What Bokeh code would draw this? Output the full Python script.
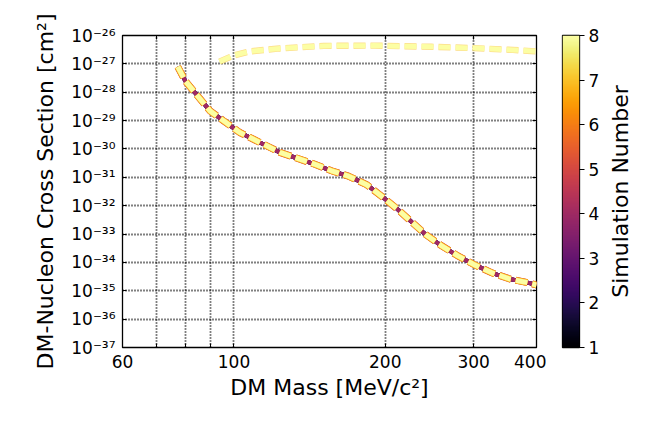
import numpy as np
from bokeh.plotting import figure
from bokeh.models import LogAxis, FixedTicker, Range1d, LinearColorMapper
from bokeh.layouts import row
from bokeh.palettes import Inferno256
from bokeh.embed import file_html
from bokeh.resources import INLINE

# ---------------- data ----------------
sims = [1, 2, 3, 4, 5, 6, 7, 8]

# lower exclusion branch (all simulations overlap)
lower_mass = [77.3, 80.0, 85.1, 89.6, 95.2, 102.7, 112.6, 123.4, 132.2, 144.0,
              156.4, 169.0, 183.7, 197.0, 211.1, 226.1, 241.0, 258.1, 279.0,
              300.0, 326.0, 354.0, 386.0, 400.0]
lower_sigma = [7.9e-28, 2.5e-28, 6.6e-29, 2.2e-29, 1.0e-29, 3.8e-30, 1.7e-30,
               7.6e-31, 5.0e-31, 3.0e-31, 1.7e-31, 1.1e-31, 5.5e-32, 2.1e-32,
               7.8e-33, 2.6e-33, 9.5e-34, 4.0e-34, 1.7e-34, 8.5e-35, 4.3e-35,
               2.6e-35, 1.9e-35, 1.6e-35]

# upper exclusion branch (late simulations)
upper_mass = [93.6, 100.0, 107.6, 123.4, 150.8, 189.8, 247.0, 300.0, 359.0, 400.0]
upper_sigma = [1.2e-27, 2.0e-27, 2.75e-27, 3.5e-27, 4.3e-27, 4.4e-27, 4.0e-27,
               3.6e-27, 3.1e-27, 2.75e-27]

x_ticks = [60, 100, 200, 300, 400]
x_tick_labels = ["60", "100", "200", "300", "400"]
x_minor = [70, 80, 90]
y_ticks = [1e-37, 1e-36, 1e-35, 1e-34, 1e-33, 1e-32, 1e-31, 1e-30, 1e-29,
           1e-28, 1e-27, 1e-26]
y_tick_labels = ["10⁻³⁷", "10⁻³⁶", "10⁻³⁵", "10⁻³⁴", "10⁻³³", "10⁻³²",
                 "10⁻³¹", "10⁻³⁰", "10⁻²⁹", "10⁻²⁸", "10⁻²⁷", "10⁻²⁶"]

FONT = "DejaVu Sans"


def sim_color(s):
    return Inferno256[int(round((s - 1) / 7 * 255))]


# ---------------- main plot ----------------
p = figure(frame_width=414, frame_height=312, x_axis_type="log", y_axis_type="log",
           x_range=Range1d(60, 400), y_range=Range1d(1e-37, 1e-26),
           output_backend="svg", toolbar_location=None,
           min_border_left=122, min_border_right=10, min_border_top=35,
           min_border_bottom=87)
p.background_fill_color = "white"
p.border_fill_color = "white"
p.outline_line_color = "black"
p.outline_line_width = 1.3
p.outline_line_alpha = 1.0

xticker = FixedTicker(ticks=x_ticks, minor_ticks=x_minor)
yticker = FixedTicker(ticks=y_ticks, minor_ticks=[])
p.xaxis.ticker = xticker
p.yaxis.ticker = yticker
p.xaxis.major_label_overrides = dict(zip(x_ticks, x_tick_labels))
p.yaxis.major_label_overrides = dict(zip(y_ticks, y_tick_labels))


def style_axis(ax):
    ax.axis_line_color = None
    ax.major_tick_in = 4
    ax.major_tick_out = 0
    ax.minor_tick_in = 4
    ax.minor_tick_out = 0
    ax.major_tick_line_color = "black"
    ax.minor_tick_line_color = "black"
    ax.major_label_text_font = FONT
    ax.major_label_text_font_size = "17px"
    ax.major_label_text_color = "black"
    ax.major_label_standoff = 7
    ax.axis_label_text_font = FONT
    ax.axis_label_text_font_size = "22px"
    ax.axis_label_text_font_style = "normal"
    ax.axis_label_text_color = "black"


for ax in p.xaxis + p.yaxis:
    style_axis(ax)
p.xaxis.axis_label = "DM Mass [MeV/c²]"
p.yaxis.axis_label = "DM-Nucleon Cross Section [cm²]"
p.xaxis.axis_label_standoff = 4
p.yaxis.axis_label_standoff = 10

# inward ticks on top and right, no labels
top_ax = LogAxis(ticker=xticker, major_label_overrides={t: "" for t in x_ticks})
right_ax = LogAxis(ticker=yticker, major_label_overrides={t: "" for t in y_ticks})
for ax in (top_ax, right_ax):
    style_axis(ax)
    ax.major_label_text_font_size = "0px"
    ax.major_label_standoff = 0
p.add_layout(top_ax, "above")
p.add_layout(right_ax, "right")

for g in (p.xgrid, p.ygrid):
    g.grid_line_color = "black"
    g.grid_line_dash = "1 2"
    g.grid_line_width = 1.8
p.xgrid.minor_grid_line_color = "black"
p.xgrid.minor_grid_line_dash = "1 2"
p.xgrid.minor_grid_line_width = 1.8

DASH = "12 5"
# lower branch: early simulations solid beneath, later ones dashed on top
for s in sims:
    if s <= 4:
        p.line(lower_mass, lower_sigma, line_color=sim_color(s), line_width=4)
    elif s < 8:
        p.line(lower_mass, lower_sigma, line_color=sim_color(s),
               line_width=7.0 - 0.4 * (s - 5), line_dash=DASH)
    else:
        p.line(lower_mass, lower_sigma, line_color=sim_color(s), line_width=5,
               line_dash=DASH)

# upper branch
p.line(upper_mass, upper_sigma, line_color=sim_color(7), line_alpha=0.55,
       line_width=6.4, line_dash=DASH)
p.line(upper_mass, upper_sigma, line_color=sim_color(8), line_width=5,
       line_dash=DASH)

# ---------------- colour bar ----------------
p2 = figure(frame_width=17, frame_height=312, x_range=Range1d(0, 1),
            y_range=Range1d(1, 8), y_axis_location="right",
            output_backend="svg", toolbar_location=None,
            min_border_left=16, min_border_right=20, min_border_top=35,
            min_border_bottom=87)
p2.xaxis.visible = False
p2.grid.visible = False
p2.outline_line_color = "black"
p2.outline_line_width = 1.3
p2.border_fill_color = "white"
mapper = LinearColorMapper(palette=Inferno256, low=1, high=8)
p2.image(image=[np.linspace(1, 8, 256).reshape(256, 1)], x=0, y=1, dw=1, dh=7,
         color_mapper=mapper)
for ax in p2.yaxis:
    style_axis(ax)
    ax.ticker = FixedTicker(ticks=sims, minor_ticks=[])
    ax.major_tick_in = 0
    ax.major_tick_out = 5
    ax.major_label_standoff = 4

# colour bar title (reads bottom-to-top, as a left-side axis label)
p3 = figure(frame_width=1, frame_height=312, x_range=Range1d(0, 1),
            y_range=Range1d(0, 1), output_backend="svg", toolbar_location=None,
            min_border_left=30, min_border_right=0, min_border_top=35,
            min_border_bottom=87)
p3.xaxis.visible = False
p3.grid.visible = False
p3.outline_line_color = None
p3.border_fill_color = "white"
p3.background_fill_color = "white"
for ax in p3.yaxis:
    style_axis(ax)
    ax.ticker = FixedTicker(ticks=[], minor_ticks=[])
    ax.major_tick_in = 0
    ax.major_tick_out = 0
    ax.minor_tick_in = 0
    ax.minor_tick_out = 0
    ax.major_label_text_font_size = "0px"
    ax.major_label_standoff = 0
    ax.axis_label = "Simulation Number"
    ax.axis_label_standoff = 0

layout = row(p, p2, p3)
open("out.html", "w").write(file_html(layout, INLINE))
